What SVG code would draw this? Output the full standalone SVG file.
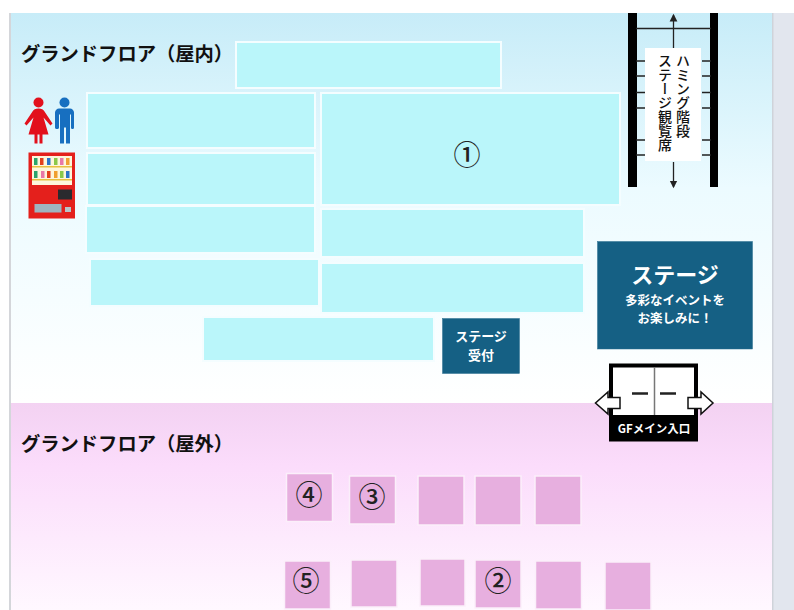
<svg xmlns="http://www.w3.org/2000/svg" width="794" height="610" viewBox="0 0 794 610">
<style>
text{font-family:"Noto Sans CJK JP","Noto Sans",sans-serif}
.b{fill:#baf6fa;stroke:#f4fdff;stroke-width:2}
.p{fill:#e7afdf;stroke:#fbeffa;stroke-width:1.5}
.d{fill:#156084;stroke:#2a6f90;stroke-width:.5}
.h{font-size:19.3px;font-weight:700;fill:#111}
.n{font-size:27px;font-weight:500;fill:#222;text-anchor:middle}
.w{fill:#fff;font-weight:700;text-anchor:middle}
.k{stroke:#222;stroke-width:1.3;fill:none}
.v{font-size:14px;font-weight:500;fill:#111;writing-mode:vertical-rl}
</style>
<defs>
<linearGradient id="gi" x1="0" y1="0" x2="0" y2="1"><stop offset="0" stop-color="#c7ecf8"/><stop offset=".45" stop-color="#ecfbff"/><stop offset="1" stop-color="#fff"/></linearGradient>
<linearGradient id="go" x1="0" y1="0" x2="0" y2="1"><stop offset="0" stop-color="#f3d2f2"/><stop offset=".3" stop-color="#fbdcfb"/><stop offset="1" stop-color="#fff8ff"/></linearGradient>
<marker id="ah" markerWidth="7" markerHeight="7" refX="5" refY="3.5" orient="auto"><path d="M0 .5L6 3.5L0 6.5Z" fill="#222"/></marker>
</defs>
<rect width="794" height="610" fill="#fff"/>
<rect x="9" y="13" width="2.5" height="597" fill="#d4d6da"/>
<rect x="11" y="13" width="761" height="390" fill="url(#gi)"/>
<rect x="11" y="403" width="761" height="207" fill="url(#go)"/>
<rect x="772" y="13" width="22" height="597" fill="#e2e6ee"/>
<rect x="772" y="13" width="1.5" height="597" fill="#cfd3da"/>

<g id="title-indoor"><text class="h" x="21" y="61">グランドフロア（屋内）</text></g>
<g id="title-outdoor"><text class="h" x="21" y="451">グランドフロア（屋外）</text></g>

<g id="toilet">
<circle cx="38.500" cy="102.500" r="5" fill="#e2101c"/>
<path d="M38.500 108.500c3 0 5 1 6 3l8 12-2 2-7-8 5 17h-6v9h-3v-9h-2v9h-3v-9h-6l5-17-7 8-2-2 8-12c1-2 3-3 6-3z" fill="#e2101c"/>
<circle cx="64.500" cy="102.500" r="5" fill="#176fc0"/>
<path d="M59 108.500h11c2 0 4 2 4 4v15c0 2-3 2-3 0v-13l-1 0v29h-4v-16h-2v16h-4v-29l-1 0v13c0 2-4 2-4 0v-15c0-2 2-4 4-4z" fill="#176fc0"/>
</g>

<g id="vending-machine">
<rect x="28.500" y="152.500" width="46.500" height="66" fill="#e4201c"/>
<rect x="32" y="156" width="40" height="29" fill="#fdf6dc"/>
<g fill="#2aa46c"><rect x="34" y="158" width="3.500" height="7"/><rect x="34" y="171" width="3.500" height="7"/></g>
<g fill="#e2401c"><rect x="40" y="158" width="3.500" height="7"/><rect x="47" y="171" width="3.500" height="7"/></g>
<g fill="#2a74c8"><rect x="47" y="158" width="3.500" height="7"/><rect x="66" y="171" width="3.500" height="7"/></g>
<g fill="#e878a8"><rect x="60" y="158" width="3.500" height="7"/><rect x="41" y="171" width="3.500" height="7"/></g>
<g fill="#8ac84a"><rect x="54" y="158" width="3.500" height="7"/><rect x="60" y="171" width="3.500" height="7"/></g>
<g fill="#f0a030"><rect x="66" y="158" width="3.500" height="7"/><rect x="54" y="171" width="3.500" height="7"/></g>
<rect x="32" y="166" width="40" height="1.500" fill="#e8c040"/><rect x="32" y="179" width="40" height="1.500" fill="#e8c040"/>
<rect x="58" y="189.500" width="14" height="10" fill="#2a2a2e"/>
<rect x="34.500" y="204" width="27" height="8.500" fill="#9fb4bf"/>
<rect x="65" y="207" width="6" height="5" fill="#b8c4c8"/>
</g>

<g id="booth-top"><rect class="b" x="236" y="42" width="265" height="46"/></g>
<g id="booth-l1"><rect class="b" x="87" y="93" width="228" height="55"/></g>
<g id="booth-l2"><rect class="b" x="87" y="153" width="228" height="52"/></g>
<g id="booth-l3"><rect class="b" x="86" y="206" width="229" height="47"/></g>
<g id="booth-l4"><rect class="b" x="90" y="259" width="229" height="47"/></g>
<g id="booth-1"><rect class="b" x="321" y="93" width="299" height="112"/><text class="n" x="467" y="165">①</text></g>
<g id="booth-r2"><rect class="b" x="321" y="209" width="263" height="48"/></g>
<g id="booth-r3"><rect class="b" x="321" y="263" width="263" height="50"/></g>
<g id="booth-bottom"><rect class="b" x="203" y="317" width="231" height="44"/></g>

<g id="stage-reception"><rect class="d" x="442.500" y="318.500" width="77" height="55"/><text class="w" x="481" y="341" font-size="13">ステージ</text><text class="w" x="481" y="359.500" font-size="13">受付</text></g>
<g id="stage"><rect class="d" x="597.500" y="241.500" width="155" height="107.500"/><text class="w" x="675" y="283" font-size="22">ステージ</text><text class="w" x="675" y="304.500" font-size="12.500">多彩なイベントを</text><text class="w" x="675" y="323" font-size="12.500">お楽しみに！</text></g>

<g id="stairs">
<rect x="628" y="13" width="9" height="174" fill="#000"/>
<rect x="710" y="13" width="8" height="174" fill="#000"/>
<rect x="645" y="48" width="56" height="113" fill="#fff"/>
<text class="v" x="683" y="54">ハミング階段</text>
<text class="v" x="665" y="54">ステージ観覧席</text>
</g>

<g id="connectors">
<path class="k" d="M636 28.500H711M636 61H645M636 76H645M636 92.500H645M636 108H645M636 140H645M636 155H645M702 61H711M702 76H711M702 92.500H711M702 108H711M702 140H711M702 155H711"/>
<path class="k" d="M673.500 48V15" marker-end="url(#ah)"/>
<path class="k" d="M673.500 162V187" marker-end="url(#ah)"/>
</g>

<g id="entrance">
<rect x="611" y="365.500" width="85" height="74" fill="#fff" stroke="#000" stroke-width="4"/>
<rect x="609" y="415" width="89" height="26" fill="#000"/>
<path d="M654.500 367V415" stroke="#777" stroke-width="1.500"/>
<path d="M632 393.500H648M660 393.500H676" stroke="#222" stroke-width="2.500"/>
<path d="M620 397.500H608V392L595.500 403L608 414V408.500H620Z" fill="#fff" stroke="#111" stroke-width="1.500"/>
<path d="M688 397.500H701V392L713 403L701 414V408.500H688Z" fill="#fff" stroke="#111" stroke-width="1.500"/>
<text class="w" x="654" y="433" font-size="11.500">GFメイン入口</text>
</g>

<g id="booth-4"><rect class="p" x="286.500" y="473.500" width="46" height="48"/><text class="n" x="309" y="505">④</text></g>
<g id="booth-3"><rect class="p" x="349.500" y="476" width="46" height="48"/><text class="n" x="372" y="507">③</text></g>
<g id="booth-o3"><rect class="p" x="418" y="476" width="46" height="49"/></g>
<g id="booth-o4"><rect class="p" x="475" y="476" width="46" height="49"/></g>
<g id="booth-o5"><rect class="p" x="535" y="476" width="46" height="49"/></g>
<g id="booth-5"><rect class="p" x="284.500" y="561" width="46" height="48"/><text class="n" x="306" y="591">⑤</text></g>
<g id="booth-o7"><rect class="p" x="351" y="560" width="46" height="47"/></g>
<g id="booth-o8"><rect class="p" x="420" y="559" width="45" height="47"/></g>
<g id="booth-2"><rect class="p" x="475" y="560" width="46" height="48"/><text class="n" x="498" y="591">②</text></g>
<g id="booth-o10"><rect class="p" x="535.500" y="561" width="46" height="48"/></g>
<g id="booth-o11"><rect class="p" x="605" y="562" width="46" height="48"/></g>
</svg>
